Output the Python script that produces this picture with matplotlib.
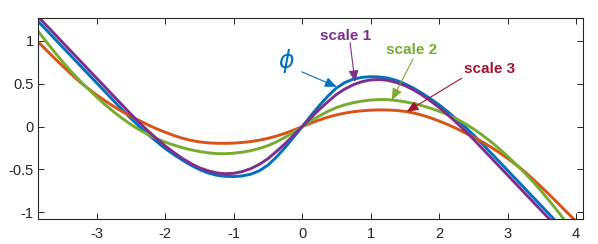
import matplotlib
matplotlib.use("Agg")
import matplotlib.pyplot as plt

# ---- data ----
x = [-4.0, -3.875, -3.75, -3.625, -3.5, -3.375, -3.25, -3.125, -3.0, -2.875, -2.75,
     -2.625, -2.5, -2.375, -2.25, -2.125, -2.0, -1.875, -1.75, -1.625, -1.5, -1.375,
     -1.25, -1.125, -1.0, -0.875, -0.75, -0.625, -0.5, -0.375, -0.25, -0.125,
     0.0, 0.125, 0.25, 0.375, 0.5, 0.625, 0.75, 0.875, 1.0, 1.125, 1.25, 1.375,
     1.5, 1.625, 1.75, 1.875, 2.0, 2.125, 2.25, 2.375, 2.5, 2.625, 2.75, 2.875,
     3.0, 3.125, 3.25, 3.375, 3.5, 3.625, 3.75, 3.875, 4.0]

phi = [1.35, 1.245, 1.14, 1.035, 0.93, 0.825, 0.72, 0.615, 0.51, 0.405, 0.30,
       0.195, 0.095, 0.0, -0.09, -0.175, -0.255, -0.325, -0.39, -0.45, -0.50, -0.54,
       -0.567, -0.58, -0.583, -0.575, -0.555, -0.515, -0.45, -0.355, -0.245, -0.125,
       0.0, 0.125, 0.245, 0.355, 0.45, 0.515, 0.555, 0.575, 0.583, 0.58, 0.567, 0.54,
       0.50, 0.45, 0.39, 0.325, 0.255, 0.175, 0.09, 0.0, -0.095, -0.195, -0.30, -0.405,
       -0.51, -0.615, -0.72, -0.825, -0.93, -1.035, -1.14, -1.245, -1.35]

scale1 = [1.405, 1.30, 1.195, 1.09, 0.985, 0.88, 0.775, 0.67, 0.565, 0.46, 0.355,
          0.25, 0.145, 0.045, -0.05, -0.14, -0.225, -0.30, -0.37, -0.43, -0.48, -0.515,
          -0.54, -0.55, -0.545, -0.525, -0.49, -0.44, -0.375, -0.29, -0.20, -0.10,
          0.0, 0.10, 0.20, 0.29, 0.375, 0.44, 0.49, 0.525, 0.545, 0.55, 0.54, 0.515,
          0.48, 0.43, 0.37, 0.30, 0.225, 0.14, 0.05, -0.045, -0.145, -0.25, -0.355, -0.46,
          -0.565, -0.67, -0.775, -0.88, -0.985, -1.09, -1.195, -1.30, -1.405]

scale2 = [1.265, 1.135, 1.005, 0.88, 0.76, 0.645, 0.54, 0.44, 0.345, 0.255, 0.172,
          0.095, 0.025, -0.037, -0.092, -0.14, -0.18, -0.215, -0.245, -0.27, -0.29, -0.305,
          -0.315, -0.316, -0.31, -0.298, -0.28, -0.255, -0.222, -0.178, -0.125, -0.065,
          0.0, 0.065, 0.125, 0.178, 0.222, 0.255, 0.28, 0.298, 0.31, 0.316, 0.315, 0.305,
          0.29, 0.27, 0.245, 0.215, 0.18, 0.14, 0.092, 0.037, -0.025, -0.095, -0.172, -0.255,
          -0.345, -0.44, -0.54, -0.645, -0.76, -0.88, -1.005, -1.135, -1.265]

scale3 = [1.105, 1.005, 0.905, 0.805, 0.71, 0.615, 0.525, 0.445, 0.37, 0.30, 0.235,
          0.175, 0.12, 0.07, 0.02, -0.025, -0.065, -0.103, -0.135, -0.16, -0.178, -0.189,
          -0.194, -0.195, -0.192, -0.185, -0.174, -0.158, -0.137, -0.11, -0.078, -0.04,
          0.0, 0.04, 0.078, 0.11, 0.137, 0.158, 0.174, 0.185, 0.192, 0.195, 0.194, 0.189,
          0.178, 0.16, 0.135, 0.103, 0.065, 0.025, -0.02, -0.07, -0.12, -0.175, -0.235, -0.30,
          -0.37, -0.445, -0.525, -0.615, -0.71, -0.805, -0.905, -1.005, -1.105]

xticks = [-3, -2, -1, 0, 1, 2, 3, 4]
yticks = [-1, -0.5, 0, 0.5, 1]
yticklabels = ["-1", "-0.5", "0", "0.5", "1"]

# ---- styling ----
BLUE = "#0072BD"
ORANGE = "#D95319"
GREEN = "#77AC30"
PURPLE = "#7E2F8E"
DARKRED = "#A2142F"
AXCOL = "#262626"

plt.rcParams["font.family"] = ["Liberation Sans", "DejaVu Sans"]

fig = plt.figure(figsize=(5.98, 2.44), dpi=100)
ax = fig.add_axes([38 / 598, 1 - 219 / 244, (583 - 38) / 598, (219 - 18) / 244])

lw = 2.1
ax.plot(x, phi, color=BLUE, lw=lw)
ax.plot(x, scale3, color=ORANGE, lw=lw)
ax.plot(x, scale2, color=GREEN, lw=lw)
ax.plot(x, scale1, color=PURPLE, lw=lw)

ax.set_xlim(-3.857, 4.102)
ax.set_ylim(-1.078, 1.268)
ax.set_xticks(xticks)
ax.set_xticklabels([str(t) for t in xticks])
ax.set_yticks(yticks)
ax.set_yticklabels(yticklabels)

for s in ax.spines.values():
    s.set_color(AXCOL)
    s.set_linewidth(0.8)
ax.tick_params(direction="in", length=4, width=0.7, color=AXCOL,
               labelcolor=AXCOL, labelsize=10.5, top=True, right=True)
ax.tick_params(axis="x", pad=6)
ax.tick_params(axis="y", pad=3)

# ---- annotations: text labels and separate arrows ----
def arrow(tip, start, color):
    ax.annotate("", xy=tip, xytext=start,
                arrowprops=dict(arrowstyle="-|>,head_length=0.7,head_width=0.3",
                                color=color, lw=0.8, mutation_scale=10,
                                shrinkA=0, shrinkB=0))

ax.text(-0.235, 0.767, r"$\phi$", color=BLUE, fontsize=17, ha="center", va="center")
arrow((0.505, 0.466), (-0.006, 0.64), BLUE)

ax.text(0.641, 1.058, "scale 1", color=PURPLE, fontsize=11, fontweight="bold",
        ha="center", va="center")
arrow((0.773, 0.52), (0.70, 0.98), PURPLE)

ax.text(1.605, 0.894, "scale 2", color=GREEN, fontsize=11, fontweight="bold",
        ha="center", va="center")
arrow((1.31, 0.31), (1.62, 0.79), GREEN)

ax.text(2.744, 0.673, "scale 3", color=DARKRED, fontsize=11, fontweight="bold",
        ha="center", va="center")
arrow((1.528, 0.175), (2.33, 0.565), DARKRED)

fig.savefig("out.png", dpi=100)
